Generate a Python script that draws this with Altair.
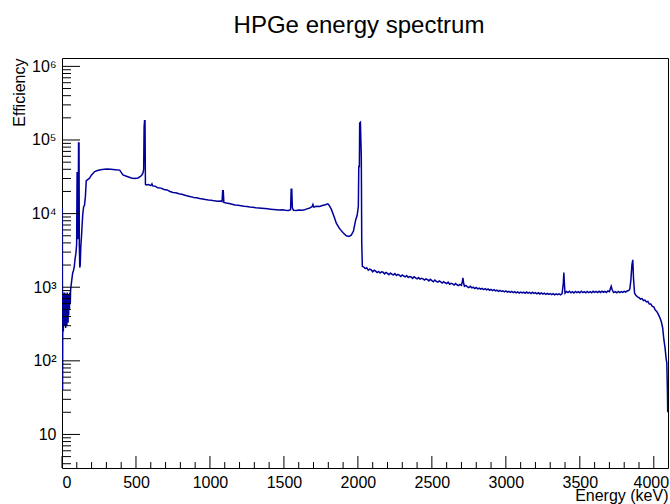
import altair as alt
import pandas as pd

# ---- spectrum values: (energy keV, counts) ----
seg_low = [
    (0, 500), (2, 12000), (4, 40), (5, 300), (7, 850), (9, 250), (11, 800), (13, 350), (15, 700),
    (17, 300), (19, 850), (21, 400), (23, 750), (25, 280), (27, 800), (29, 350), (31, 600), (33, 300),
    (35, 850), (37, 450), (39, 650), (41, 330), (43, 800), (45, 420), (47, 700), (50, 500), (53, 850),
    (56, 600), (58, 900), (60, 1000), (66, 1250), (72, 1550), (78, 1700), (83, 1900), (88, 2400),
    (94, 2900), (99, 3800), (102, 36000), (104, 36000), (106, 4500), (109, 5000), (112, 91000),
    (115, 91000), (117, 4000), (120, 1850), (123, 2000), (127, 3500), (132, 5000), (136, 7000),
    (140, 9600), (146, 12300), (152, 13000), (158, 17000), (164, 28000), (172, 28700), (187, 30500),
    (200, 33500), (221, 37200), (240, 38500), (260, 39500), (300, 40500), (331, 40000), (360, 39500),
    (390, 39000), (412, 33500), (440, 32000), (469, 30500), (490, 30000), (514, 30500), (530, 32000),
    (540, 33500), (548, 36000), (552, 40000), (555, 150000), (558, 183000), (561, 183000),
    (564, 25000), (568, 24500),
]
seg_mid = [
    (585, 24800), (600, 24000), (608, 25400), (613, 23800), (630, 23600), (647, 22400), (670, 22200),
    (690, 21300), (710, 21000), (730, 20000), (750, 19400), (770, 19200), (790, 18600), (810, 18300),
    (830, 17800), (850, 17300), (870, 17000), (890, 16600), (910, 16400), (930, 16000), (950, 15800),
    (970, 15500), (990, 15300), (1010, 15200), (1030, 14900), (1050, 14700), (1070, 14800),
    (1082, 14600), (1086, 20400), (1090, 20400), (1094, 14200), (1111, 13900), (1130, 13700),
    (1150, 13400), (1170, 13100), (1190, 13000), (1210, 12800), (1230, 12600), (1250, 12500),
    (1270, 12300), (1290, 12200), (1310, 12000), (1330, 11900), (1350, 11800), (1370, 11700),
    (1390, 11600), (1410, 11500), (1430, 11400), (1450, 11300), (1470, 11200), (1490, 11250),
    (1510, 11100), (1530, 11000), (1545, 11300), (1549, 21500), (1553, 21500), (1557, 12000),
    (1565, 11100), (1584, 11000), (1600, 11200), (1620, 11100), (1640, 11300), (1651, 11500),
    (1670, 11800), (1690, 12400), (1696, 13300), (1702, 12300), (1720, 12600), (1741, 12500),
    (1760, 12900), (1780, 13200), (1797, 13600), (1805, 13000), (1820, 11500), (1840, 9000),
    (1854, 7400), (1875, 6300), (1900, 5500), (1922, 5000), (1940, 4900), (1955, 5100), (1970, 5800),
    (1985, 8200), (1995, 9500), (2003, 12500), (2006, 43500), (2010, 43500), (2012, 170000),
    (2017, 174000), (2020, 100000), (2023, 60000), (2026, 4000), (2030, 1920),
]
seg_high = [
    (2040, 1880), (2050, 1790), (2060, 1840), (2070, 1700), (2080, 1760), (2090, 1720), (2100, 1620),
    (2110, 1700), (2120, 1650), (2130, 1580), (2140, 1640), (2150, 1560), (2160, 1620), (2170, 1600),
    (2180, 1520), (2190, 1590), (2200, 1540), (2210, 1480), (2220, 1560), (2230, 1500), (2240, 1470),
    (2250, 1530), (2260, 1440), (2270, 1490), (2280, 1460), (2290, 1400), (2300, 1470), (2310, 1420),
    (2320, 1380), (2330, 1440), (2340, 1360), (2350, 1400), (2360, 1380), (2370, 1320), (2380, 1390),
    (2390, 1340), (2400, 1300), (2410, 1350), (2420, 1290), (2430, 1320), (2440, 1300), (2450, 1250),
    (2460, 1300), (2470, 1270), (2480, 1220), (2490, 1280), (2500, 1230), (2510, 1190), (2520, 1250),
    (2530, 1200), (2540, 1170), (2550, 1220), (2560, 1180), (2570, 1140), (2580, 1190), (2590, 1150),
    (2600, 1120), (2610, 1170), (2620, 1100), (2630, 1130), (2640, 1110), (2650, 1070), (2660, 1120),
    (2670, 1080), (2680, 1050), (2690, 1090), (2700, 1060), (2706, 1200), (2710, 1340), (2714, 1150),
    (2720, 1030), (2730, 1060), (2740, 1010), (2750, 990), (2760, 1030), (2770, 980), (2780, 1000),
    (2790, 960), (2800, 990), (2810, 950), (2820, 970), (2830, 940), (2840, 965), (2850, 930),
    (2860, 955), (2870, 920), (2880, 945), (2890, 910), (2900, 935), (2910, 900), (2920, 925),
    (2930, 890), (2940, 915), (2950, 880), (2960, 905), (2970, 875), (2980, 895), (2990, 865),
    (3000, 890), (3010, 860), (3020, 880), (3030, 850), (3040, 875), (3050, 845), (3060, 870),
    (3070, 840), (3080, 865), (3090, 835), (3100, 860), (3110, 835), (3120, 855), (3130, 825),
    (3140, 860), (3150, 830), (3160, 850), (3170, 820), (3180, 855), (3190, 825), (3200, 845),
    (3210, 815), (3220, 840), (3230, 810), (3240, 835), (3250, 805), (3260, 830), (3270, 800),
    (3280, 825), (3290, 800), (3300, 820), (3310, 795), (3320, 820), (3330, 790), (3340, 815),
    (3350, 795), (3360, 815), (3370, 790), (3380, 820), (3388, 1100), (3392, 1580), (3396, 1100),
    (3400, 830), (3410, 875), (3420, 845), (3430, 880), (3440, 840), (3450, 870), (3460, 835),
    (3470, 875), (3480, 845), (3490, 870), (3500, 840), (3510, 880), (3520, 845), (3530, 870),
    (3540, 840), (3550, 875), (3560, 845), (3570, 870), (3580, 840), (3590, 880), (3600, 850),
    (3610, 875), (3620, 845), (3630, 880), (3640, 850), (3650, 885), (3660, 855), (3670, 880),
    (3680, 850), (3690, 890), (3700, 870), (3705, 940), (3712, 1030), (3718, 930), (3725, 870),
    (3730, 845), (3740, 870), (3750, 840), (3760, 875), (3770, 845), (3780, 870), (3790, 850),
    (3800, 880), (3810, 860), (3820, 890), (3830, 900), (3838, 950), (3845, 1240), (3852, 2000),
    (3858, 2350), (3863, 1300), (3870, 830), (3880, 770), (3890, 740), (3900, 720), (3910, 690),
    (3920, 700), (3930, 660), (3940, 670), (3950, 630), (3960, 640), (3970, 590), (3980, 590),
    (3990, 550), (4000, 540), (4010, 490), (4020, 470), (4030, 430), (4040, 390), (4050, 345),
    (4060, 280), (4068, 195), (4076, 150), (4084, 104), (4088, 94), (4092, 40), (4094, 20),
]

# ---- axis tick values ----
x_labels = [0, 500, 1000, 1500, 2000, 2500, 3000, 3500, 4000]
x_minor = [v for v in range(100, 4100, 100) if v % 500 != 0]
y_labels_values = [10, 100, 1000, 10000, 100000, 1000000]
y_labels_text = ["", "10", "10²", "10³", "10⁴", "10⁵", "10⁶"]
y_minor_mult = [2, 3, 4, 5, 6, 7, 8, 9]
y_minor_decades = [1, 10, 100, 1000, 10000, 100000]

X_DOMAIN = [0, 4096]
Y_DOMAIN = [3.5, 1.3e6]
W, H = 606, 410
FONT = "Liberation Sans"
LINE_COLOR = "#00009c"

y_minor = [m * d for d in y_minor_decades for m in y_minor_mult if Y_DOMAIN[0] <= m * d <= Y_DOMAIN[1]]

pairs = seg_low + seg_mid + seg_high
df = pd.DataFrame({"energy": [p[0] for p in pairs], "counts": [p[1] for p in pairs]})

xscale = alt.Scale(type="linear", domain=X_DOMAIN, nice=False, zero=False)
yscale = alt.Scale(type="log", domain=Y_DOMAIN, nice=False)

label_expr = "[" + ",".join("'" + t + "'" for t in y_labels_text) + "][round(log(datum.value)/LN10)]"

xaxis = alt.Axis(
    values=x_labels, format="d", ticks=False, domain=False, grid=False,
    labelFont=FONT, labelFontSize=16, labelColor="black", labelPadding=6,
    labelOffset={"condition": {"test": "datum.value >= 4000", "value": -3}, "value": 0},
    title="Energy (keV)", titleFont=FONT, titleFontSize=16, titleFontWeight="normal",
    titleColor="black", titleAlign="right", titleAnchor="end", titleBaseline="alphabetic",
    titleX=W, titleY=32,
)
yaxis = alt.Axis(
    values=y_labels_values, labelExpr=label_expr, ticks=False, domain=False, grid=False,
    labelFont=FONT, labelFontSize=16, labelColor="black", labelPadding=6,
    title="Efficiency", titleFont=FONT, titleFontSize=16, titleFontWeight="normal",
    titleColor="black", titleAlign="right", titleAnchor="end", titleBaseline="alphabetic",
    titleAngle=270, titleX=-38, titleY=0,
)

line = alt.Chart(df).mark_line(color=LINE_COLOR, strokeWidth=1.5, clip=True).encode(
    x=alt.X("energy:Q", scale=xscale, axis=xaxis),
    y=alt.Y("counts:Q", scale=yscale, axis=yaxis),
    order=alt.Order("energy:Q"),
)

tick_color = "black"
xmaj = alt.Chart(pd.DataFrame({"t": x_labels})).mark_rule(color=tick_color, strokeWidth=1).encode(
    x=alt.X("t:Q", scale=xscale, axis=None), y=alt.value(H), y2=alt.value(H - 12)
)
xmin = alt.Chart(pd.DataFrame({"t": x_minor})).mark_rule(color=tick_color, strokeWidth=1).encode(
    x=alt.X("t:Q", scale=xscale, axis=None), y=alt.value(H), y2=alt.value(H - 6)
)
ymaj = alt.Chart(pd.DataFrame({"t": y_labels_values})).mark_rule(color=tick_color, strokeWidth=1).encode(
    y=alt.Y("t:Q", scale=yscale, axis=None), x=alt.value(0), x2=alt.value(18)
)
ymin = alt.Chart(pd.DataFrame({"t": y_minor})).mark_rule(color=tick_color, strokeWidth=1).encode(
    y=alt.Y("t:Q", scale=yscale, axis=None), x=alt.value(0), x2=alt.value(9)
)

chart = alt.layer(line, xmin, xmaj, ymin, ymaj).resolve_axis(
    x="independent", y="independent"
).properties(
    width=W,
    height=H,
    autosize=alt.AutoSizeParams(type="none"),
    padding={"left": 62, "top": 58, "right": 2, "bottom": 36},
    title=alt.TitleParams(
        "HPGe energy spectrum", font=FONT, fontSize=24, fontWeight="normal", color="black",
        anchor="middle", baseline="alphabetic", offset=1, dx=-6,
    ),
).configure(
    background="white",
    view=alt.ViewConfig(stroke="black", strokeWidth=1),
)

chart.save("out.html", embed_options={"renderer": "svg", "actions": False})
